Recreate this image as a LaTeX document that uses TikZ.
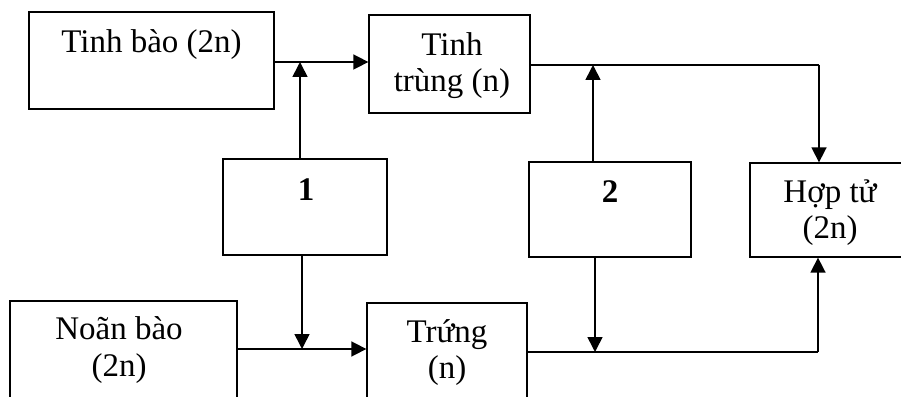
\documentclass[tikz,border=0pt]{standalone}
\usepackage{fontspec}
\setmainfont{Liberation Serif}
\usetikzlibrary{arrows.meta,calc}
\begin{document}
\begin{tikzpicture}[x=1pt,y=1pt,
  box/.style={draw,line width=1.3pt,inner sep=0pt,rectangle},
  txt/.style={font=\fontsize{33}{36}\selectfont,align=center,anchor=base,inner sep=0pt},
  conn/.style={line width=1.6pt},
  arr/.style={conn,-{Triangle[length=15pt,width=15pt]}}]
\useasboundingbox (0,0) rectangle (901,396);
\clip (0,0) rectangle (901,396);
% boxes
\node[box,minimum width=245pt,minimum height=97pt] (tb) at (151.5,335.5) {};
\node[box,minimum width=161pt,minimum height=98pt] (tt) at (449.5,332) {};
\node[box,minimum width=164pt,minimum height=96pt] (b1) at (305,189) {};
\node[box,minimum width=162pt,minimum height=95pt] (b2) at (610,186.5) {};
\node[box,minimum width=180pt,minimum height=94pt] (hz) at (840,186) {};
\node[box,minimum width=227pt,minimum height=100pt] (nb) at (123.5,45) {};
\node[box,minimum width=160pt,minimum height=98pt] (tr) at (447,44) {};
% texts (anchor = baseline of last line)
\node[txt] (ttb) at (151.5,343) {Tinh bào (2n)};
\node[txt] (ttt) at (452,304) {Tinh\\trùng (n)};
\node[txt,font=\fontsize{33}{36}\selectfont\bfseries] (t1) at (306,195) {1};
\node[txt,font=\fontsize{33}{36}\selectfont\bfseries] (t2) at (610,193) {2};
\node[txt] (thz) at (830,157) {Hợp tử\\(2n)};
\node[txt] (tnb) at (119,20) {Noãn bào\\(2n)};
\node[txt] (ttr) at (447,18) {Trứng\\(n)};
% junction coordinates
\coordinate (j1) at (300,334);
\coordinate (j2) at (593,331);
\coordinate (c1) at (819,331);
\coordinate (j3) at (302,47);
\coordinate (j4) at (595,44);
\coordinate (c2) at (818,44);
% connectors
\draw[arr] (tb.east |- j1) -- (tt.west |- j1);
\draw[arr] (b1.north -| j1) -- (j1);
\draw[conn] (tt.east |- j2) -- (c1);
\draw[arr] (c1) -- (hz.north -| c1);
\draw[arr] (b2.north -| j2) -- (j2);
\draw[arr] (nb.east |- j3) -- (tr.west |- j3);
\draw[arr] (b1.south -| j3) -- (j3);
\draw[conn] (tr.east |- j4) -- (c2);
\draw[arr] (c2) -- (hz.south -| c2);
\draw[arr] (b2.south -| j4) -- (j4);
\end{tikzpicture}
\end{document}
